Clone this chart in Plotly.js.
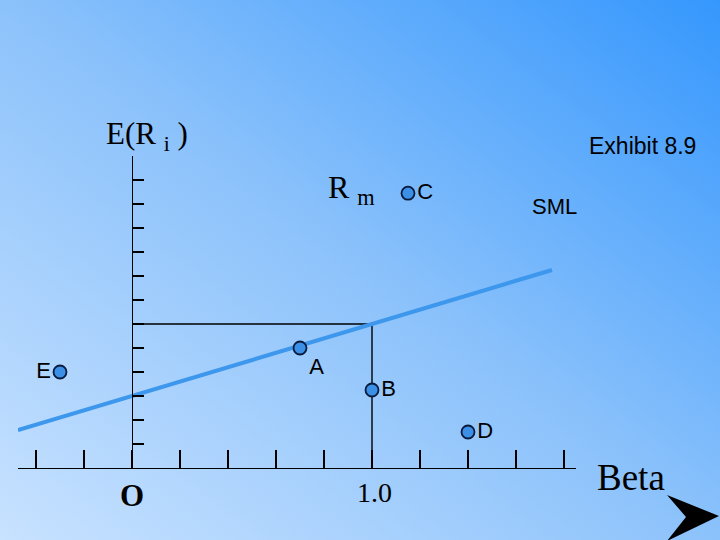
<!DOCTYPE html>
<html>
<head>
<meta charset="utf-8">
<script src="https://cdn.plot.ly/plotly-3.0.1.min.js"></script>
<style>
  html, body { margin: 0; padding: 0; width: 720px; height: 540px; overflow: hidden; }
  body { background: linear-gradient(to top right, #c8e2ff 0%, #8cc2fb 50%, #3597fd 100%); }
  #chart { width: 720px; height: 540px; }
</style>
</head>
<body>
<div id="chart"></div>
<script>
// ---- data ----
const pointNames   = ['A', 'B', 'C', 'D', 'E'];
const pointBetas   = [0.70, 1.00, 1.15, 1.40, -0.30];
const pointReturns = [5.0, 3.25, 11.45, 1.5, 4.0];
const pointLabelPos = ['bottom right', 'middle right', 'middle right', 'middle right', 'middle left'];

const smlBetas   = [-0.475, 1.75];
const smlReturns = [1.575, 8.25];

const marketBeta = 1.0;
const marketReturn = 6;

const betaTicks   = [-0.4, -0.2, 0, 0.2, 0.4, 0.6, 0.8, 1.0, 1.2, 1.4, 1.6, 1.8];
const returnTicks = [1, 2, 3, 4, 5, 6, 7, 8, 9, 10, 11, 12, 13];

// ---- traces ----
const guide = {
  x: [0, marketBeta, marketBeta],
  y: [marketReturn, marketReturn, 0],
  mode: 'lines',
  line: { color: '#000000', width: 1.4 },
  hoverinfo: 'skip',
  cliponaxis: false
};
const sml = {
  x: smlBetas,
  y: smlReturns,
  mode: 'lines',
  line: { color: '#3d97ec', width: 4 },
  hoverinfo: 'skip',
  cliponaxis: false
};
const pts = {
  x: pointBetas,
  y: pointReturns,
  mode: 'markers+text',
  text: pointNames,
  textposition: pointLabelPos,
  textfont: { family: 'Liberation Sans, Arial, sans-serif', size: 22, color: '#000000' },
  marker: { size: 13, color: '#3b8fe6', line: { color: '#0a1a3c', width: 1.8 } },
  cliponaxis: false
};

const W = 720, H = 540;
const px = v => v / W;
const py = v => 1 - v / H;
const serif = 'Liberation Serif, Times New Roman, serif';
const sans = 'Liberation Sans, Arial, sans-serif';

function ann(text, x, y, size, family, xanchor) {
  return { text: text, x: px(x), y: py(y), xref: 'paper', yref: 'paper',
           showarrow: false, xanchor: xanchor || 'center', yanchor: 'middle',
           font: { family: family, size: size, color: '#000000' } };
}

const layout = {
  width: W, height: H,
  margin: { l: 0, r: 0, t: 0, b: 0, pad: 0 },
  paper_bgcolor: 'rgba(0,0,0,0)',
  plot_bgcolor: 'rgba(0,0,0,0)',
  showlegend: false,
  xaxis: {
    domain: [18 / W, 576 / W],
    range: [-0.475, 1.85],
    anchor: 'y',
    showline: true, linecolor: '#000000', linewidth: 1.4,
    ticks: 'inside', ticklen: 18, tickwidth: 1.4, tickcolor: '#000000',
    tickvals: betaTicks, showticklabels: false,
    showgrid: false, zeroline: false, fixedrange: true
  },
  yaxis: {
    domain: [1 - 468 / H, 1 - 156 / H],
    range: [0, 13],
    anchor: 'free', position: 132 / W,
    showline: true, linecolor: '#000000', linewidth: 1.4,
    ticks: 'inside', ticklen: 11, tickwidth: 1.4, tickcolor: '#000000',
    tickvals: returnTicks, showticklabels: false,
    showgrid: false, zeroline: false, fixedrange: true
  },
  annotations: [
    ann('E(R <sub>i</sub> )', 147, 136, 31, serif),
    ann('R <sub>m</sub>', 351, 189, 32, serif),
    ann('<b>O</b>', 132, 495, 31, serif),
    ann('1.0', 374, 492, 28, serif),
    ann('Beta', 631, 477, 37, serif),
    ann('Exhibit 8.9', 698, 146, 23, sans, 'right'),
    ann('SML', 554, 206, 22, sans)
  ],
  shapes: [{
    type: 'path', xref: 'paper', yref: 'paper',
    path: 'M ' + px(667) + ' ' + py(495) + ' L ' + px(719) + ' ' + py(516) +
          ' L ' + px(667) + ' ' + py(541) + ' L ' + px(686) + ' ' + py(517) + ' Z',
    fillcolor: '#000000', line: { width: 0 }
  }]
};

Plotly.newPlot('chart', [guide, sml, pts], layout, { displayModeBar: false, staticPlot: true });
</script>
</body>
</html>
